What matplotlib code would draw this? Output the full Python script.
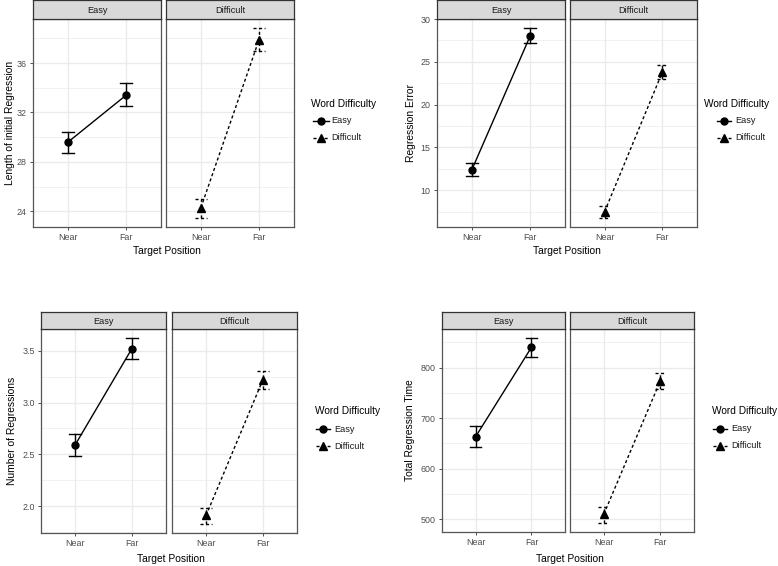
import matplotlib
matplotlib.use("Agg")
import matplotlib.pyplot as plt
from matplotlib.lines import Line2D

plt.rcParams['font.family'] = ['Liberation Sans', 'DejaVu Sans']

# ---------------- data ----------------
positions = ["Near", "Far"]
difficulties = ["Easy", "Difficult"]
legend_title = "Word Difficulty"
x_title = "Target Position"

y_titles = ["Length of initial Regression", "Regression Error",
            "Number of Regressions", "Total Regression Time"]

# means [Easy(Near, Far), Difficult(Near, Far)]
len_mean = [[29.6, 33.4], [24.3, 37.9]]
len_lo = [[28.7, 32.5], [23.5, 37.0]]
len_hi = [[30.45, 34.4], [25.0, 38.8]]
len_ticks = [24, 28, 32, 36]

err_mean = [[12.4, 28.0], [7.5, 23.8]]
err_lo = [[11.6, 27.2], [6.8, 23.0]]
err_hi = [[13.2, 28.9], [8.1, 24.6]]
err_ticks = [10, 15, 20, 25, 30]

num_mean = [[2.59, 3.52], [1.91, 3.22]]
num_lo = [[2.48, 3.42], [1.83, 3.13]]
num_hi = [[2.70, 3.62], [1.98, 3.30]]
num_ticks = [2.0, 2.5, 3.0, 3.5]
num_ticklabels = ["2.0", "2.5", "3.0", "3.5"]

time_mean = [[663, 840], [510, 773]]
time_lo = [[642, 820], [493, 757]]
time_hi = [[685, 858], [525, 789]]
time_ticks = [500, 600, 700, 800]

# ---------------- layout (pixels) ----------------
W, H = 778, 566
fig = plt.figure(figsize=(W / 100, H / 100), dpi=100)
fig.patch.set_facecolor("white")


def fx(x):
    return x / W


def fy(y):
    return 1 - y / H


blocks = [
    dict(mean=len_mean, lo=len_lo, hi=len_hi, ticks=len_ticks, ticklabels=[str(t) for t in len_ticks],
         title=y_titles[0], panels=[(33, 161), (166, 294)], strip=(0, 19), bottom=227,
         ylab_x=10, xlab=(167, 251), legend=dict(tx=311, ty=104, kx0=313, kx1=329, ky=(120.5, 137.5), txt=331)),
    dict(mean=err_mean, lo=err_lo, hi=err_hi, ticks=err_ticks, ticklabels=[str(t) for t in err_ticks],
         title=y_titles[1], panels=[(437, 565), (570, 697)], strip=(0, 19), bottom=227,
         ylab_x=411, xlab=(567, 251), legend=dict(tx=704, ty=104, kx0=717, kx1=731, ky=(120.5, 137.5), txt=735)),
    dict(mean=num_mean, lo=num_lo, hi=num_hi, ticks=num_ticks, ticklabels=num_ticklabels,
         title=y_titles[2], panels=[(41, 166), (172, 297)], strip=(312, 329), bottom=533,
         ylab_x=12, xlab=(171, 559), legend=dict(tx=315, ty=411, kx0=316, kx1=330, ky=(429, 446.3), txt=334)),
    dict(mean=time_mean, lo=time_lo, hi=time_hi, ticks=time_ticks, ticklabels=[str(t) for t in time_ticks],
         title=y_titles[3], panels=[(442, 565), (570, 694)], strip=(312, 329), bottom=532,
         ylab_x=410, xlab=(570, 559), legend=dict(tx=712, ty=411, kx0=713, kx1=727, ky=(428.7, 445.7), txt=731)),
]

styles = [dict(marker="o", ls="-", ms=5.0, lms=5.0), dict(marker="^", ls=(0, (2.2, 1.8)), ms=6.0, lms=5.8)]
grid_c = "#ebebeb"
tick_c = "#4d4d4d"

for b in blocks:
    allv = [v for row in b["lo"] for v in row] + [v for row in b["hi"] for v in row]
    vmin, vmax = min(allv), max(allv)
    pad = 0.05 * (vmax - vmin)
    ylim = (vmin - pad, vmax + pad)
    minors = [(b["ticks"][i] + b["ticks"][i + 1]) / 2 for i in range(len(b["ticks"]) - 1)]
    step = b["ticks"][1] - b["ticks"][0]
    minors = [b["ticks"][0] - step / 2] + minors + [b["ticks"][-1] + step / 2]
    top = b["strip"][1]
    for k, (x0, x1) in enumerate(b["panels"]):
        ax = fig.add_axes([fx(x0), fy(b["bottom"]), (x1 - x0) / W, (b["bottom"] - top) / H])
        ax.set_xlim(0.4, 2.6)
        ax.set_ylim(*ylim)
        for m in minors:
            ax.axhline(m, color=grid_c, lw=0.5, zorder=0)
        for t in b["ticks"]:
            ax.axhline(t, color=grid_c, lw=1.0, zorder=0)
        for xv in [1, 2]:
            ax.axvline(xv, color=grid_c, lw=1.0, zorder=0)
        st = styles[k]
        xs = [1, 2]
        ax.plot(xs, b["mean"][k], color="black", lw=1.0, ls=st["ls"], zorder=3)
        for i in range(2):
            lo, hi = b["lo"][k][i], b["hi"][k][i]
            ax.plot([xs[i], xs[i]], [lo, hi], color="black", lw=1.0, ls=st["ls"], zorder=3)
            for yv in (lo, hi):
                ax.plot([xs[i] - 0.1, xs[i] + 0.1], [yv, yv], color="black", lw=1.0, ls=st["ls"], zorder=3)
        ax.plot(xs, b["mean"][k], ls="none", marker=st["marker"], ms=st["ms"], color="black", zorder=4)
        ax.set_xticks(xs)
        ax.set_xticklabels(positions)
        ax.set_yticks(b["ticks"])
        if k == 0:
            ax.set_yticklabels(b["ticklabels"])
        else:
            ax.tick_params(axis="y", left=False, labelleft=False)
        ax.tick_params(axis="both", colors="#333333", labelcolor=tick_c, labelsize=6.4,
                       length=2.5, width=0.6, pad=2)
        for sp in ax.spines.values():
            sp.set_color("#555555")
            sp.set_linewidth(0.9)
        # strip
        sax = fig.add_axes([fx(x0), fy(b["strip"][1]), (x1 - x0) / W, (b["strip"][1] - b["strip"][0]) / H])
        sax.set_facecolor("#d9d9d9")
        sax.set_xticks([])
        sax.set_yticks([])
        for sp in sax.spines.values():
            sp.set_color("#333333")
            sp.set_linewidth(0.9)
        sax.text(0.5, 0.47, difficulties[k], ha="center", va="center", fontsize=6.6, color="#1a1a1a",
                 transform=sax.transAxes)
    # axis titles
    ymid = (top + b["bottom"]) / 2
    fig.text(fx(b["ylab_x"]), fy(ymid), b["title"], rotation=90, ha="center", va="center",
             fontsize=7.4, color="black")
    fig.text(fx(b["xlab"][0]), fy(b["xlab"][1]), x_title, ha="center", va="center",
             fontsize=7.4, color="black")
    # legend
    lg = b["legend"]
    fig.text(fx(lg["tx"]), fy(lg["ty"]), legend_title, ha="left", va="center", fontsize=7.3, color="black")
    for k in range(2):
        st = styles[k]
        yk = lg["ky"][k]
        fig.add_artist(Line2D([fx(lg["kx0"]), fx(lg["kx1"])], [fy(yk), fy(yk)], transform=fig.transFigure,
                              color="black", lw=1.0, ls=st["ls"]))
        fig.add_artist(Line2D([fx((lg["kx0"] + lg["kx1"]) / 2)], [fy(yk)], transform=fig.transFigure,
                              color="black", ls="none", marker=st["marker"], ms=st["lms"]))
        fig.text(fx(lg["txt"]), fy(yk), difficulties[k], ha="left", va="center", fontsize=6.6, color="#1a1a1a")

fig.savefig("out.png", dpi=100, facecolor="white")
